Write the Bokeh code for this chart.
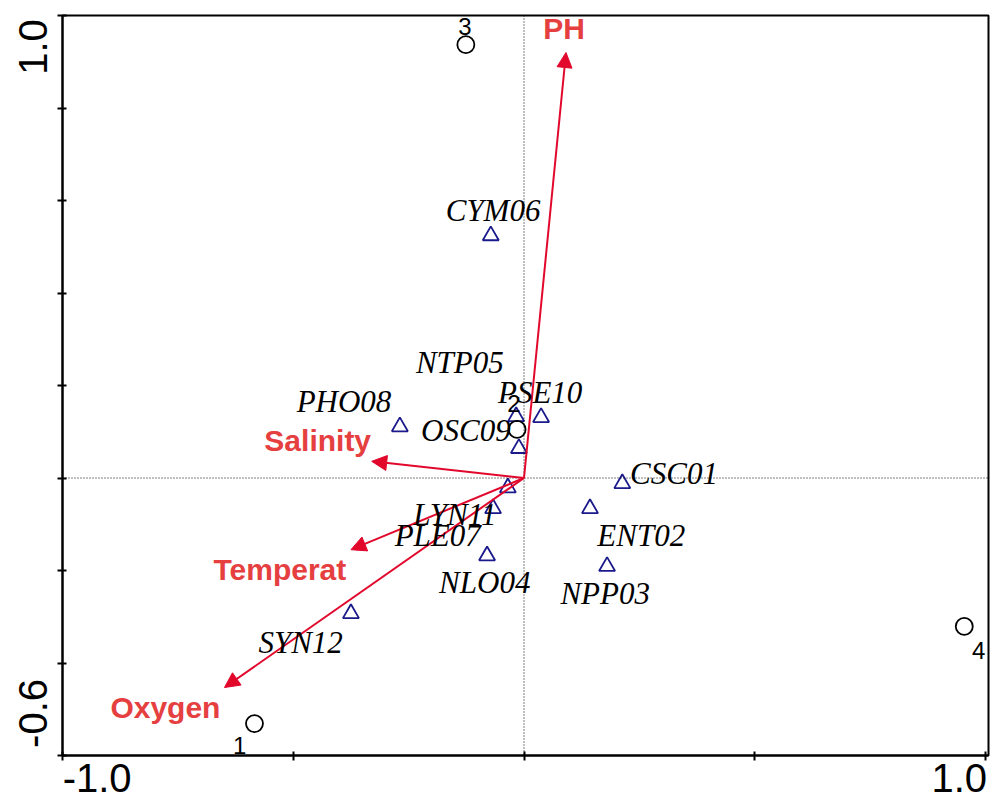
from bokeh.plotting import figure
from bokeh.models import (ColumnDataSource, Span, Arrow, NormalHead, FixedTicker,
                          Range1d, LabelSet)
from bokeh.core.properties import value
from bokeh.embed import file_html
from bokeh.resources import INLINE

# ---------------- data ----------------
species = ["CYM06", "PHO08", "NTP05", "PSE10", "OSC09", "LYN11",
           "PLE07", "NLO04", "CSC01", "ENT02", "NPP03", "SYN12"]
sp_x = [-0.072, -0.269, -0.017, 0.037, -0.011, -0.035,
        -0.067, -0.080, 0.213, 0.143, 0.180, -0.375]
sp_y = [0.524, 0.111, 0.133, 0.131, 0.064, -0.021,
        -0.066, -0.168, -0.012, -0.066, -0.191, -0.293]
sp_lab_x = [-0.067, -0.390, -0.139, 0.035, -0.126, -0.150,
            -0.187, -0.085, 0.325, 0.254, 0.176, -0.484]
sp_lab_y = [0.578, 0.165, 0.250, 0.185, 0.103, -0.079,
            -0.124, -0.226, 0.010, -0.124, -0.250, -0.356]

sites = ["1", "2", "3", "4"]
site_x = [-0.584, -0.015, -0.126, 0.954]
site_y = [-0.531, 0.105, 0.937, -0.321]
site_lab_x = [-0.616, -0.022, -0.128, 0.985]
site_lab_y = [-0.578, 0.161, 0.976, -0.373]

env = ["PH", "Salinity", "Temperat", "Oxygen"]
env_x = [0.091, -0.330, -0.375, -0.649]
env_y = [0.920, 0.036, -0.155, -0.453]
env_lab_x = [0.087, -0.447, -0.529, -0.777]
env_lab_y = [0.972, 0.081, -0.198, -0.496]

x_ticks = [-1.0, -0.5, 0.0, 0.5, 1.0]
y_ticks = [-0.6, -0.4, -0.2, 0.0, 0.2, 0.4, 0.6, 0.8, 1.0]
x_tick_labels = ["-1.0", "1.0"]
x_tick_label_pos = [-0.925, 0.943]
y_tick_labels = ["-0.6", "1.0"]
y_tick_label_pos = [-0.509, 0.932]

# ---------------- styling ----------------
RED_ARROW = "#E2082C"
RED_TEXT = "#E5403F"
NAVY = "#1A1A8C"
SANS = "Liberation Sans"

p = figure(width=990, height=803, output_backend="svg", toolbar_location=None,
           x_range=Range1d(-1.0, 1.0065), y_range=Range1d(-0.6, 1.0),
           min_border_left=62, min_border_right=2, min_border_top=15,
           min_border_bottom=48)
p.xgrid.visible = False
p.ygrid.visible = False
p.outline_line_color = "black"
p.outline_line_width = 2
p.background_fill_color = "white"
p.border_fill_color = "white"

for ax, ticks, pos, labs in ((p.xaxis[0], x_ticks, x_tick_label_pos, x_tick_labels),
                             (p.yaxis[0], y_ticks, y_tick_label_pos, y_tick_labels)):
    ax.ticker = FixedTicker(ticks=pos, minor_ticks=ticks)
    ax.major_label_overrides = dict(zip(pos, labs))
    ax.axis_line_width = 2
    ax.axis_line_color = "black"
    ax.major_tick_in = 0
    ax.major_tick_out = 0
    ax.minor_tick_in = 4
    ax.minor_tick_out = 5
    ax.minor_tick_line_width = 2
    ax.minor_tick_line_color = "black"
    ax.major_label_text_font = SANS
    ax.major_label_text_font_size = "40px"
    ax.major_label_text_color = "black"

p.xaxis[0].major_label_standoff = 3
p.yaxis[0].major_label_standoff = 10
p.yaxis[0].major_label_orientation = "vertical"

# zero lines
p.add_layout(Span(location=0, dimension="height", line_color="black",
                  line_width=1, line_dash="1 2"))
p.add_layout(Span(location=0, dimension="width", line_color="black",
                  line_width=1, line_dash="1 2"))

# arrows
arr_src = ColumnDataSource(dict(x0=[0.0] * len(env), y0=[0.0] * len(env),
                                x1=env_x, y1=env_y))
p.add_layout(Arrow(end=NormalHead(size=15, fill_color=RED_ARROW, line_color=RED_ARROW,
                                  line_width=1),
                   x_start="x0", y_start="y0", x_end="x1", y_end="y1",
                   source=arr_src, line_color=RED_ARROW, line_width=2))

# species triangles
sp_src = ColumnDataSource(dict(x=sp_x, y=sp_y, lx=sp_lab_x, ly=sp_lab_y, name=species))
p.scatter("x", "y", source=sp_src, marker="triangle", size=16, fill_color=None,
          line_color=NAVY, line_width=1.8)
p.add_layout(LabelSet(x="lx", y="ly", text="name", source=sp_src,
                      text_font=value("Liberation Serif"), text_font_style="italic",
                      text_font_size="31px", text_color="black",
                      text_align="center", text_baseline="middle"))

# site circles
site_src = ColumnDataSource(dict(x=site_x, y=site_y, lx=site_lab_x, ly=site_lab_y, name=sites))
p.scatter("x", "y", source=site_src, marker="circle", size=17, fill_color=None,
          line_color="black", line_width=1.8)
p.add_layout(LabelSet(x="lx", y="ly", text="name", source=site_src,
                      text_font=value(SANS), text_font_size="24px", text_color="black",
                      text_align="center", text_baseline="middle"))

# environment labels
env_src = ColumnDataSource(dict(x=env_lab_x, y=env_lab_y, name=env))
p.add_layout(LabelSet(x="x", y="y", text="name", source=env_src,
                      text_font=value(SANS), text_font_style="bold",
                      text_font_size="30px", text_color=RED_TEXT,
                      text_align="center", text_baseline="middle"))

open("out.html", "w").write(file_html(p, INLINE))
